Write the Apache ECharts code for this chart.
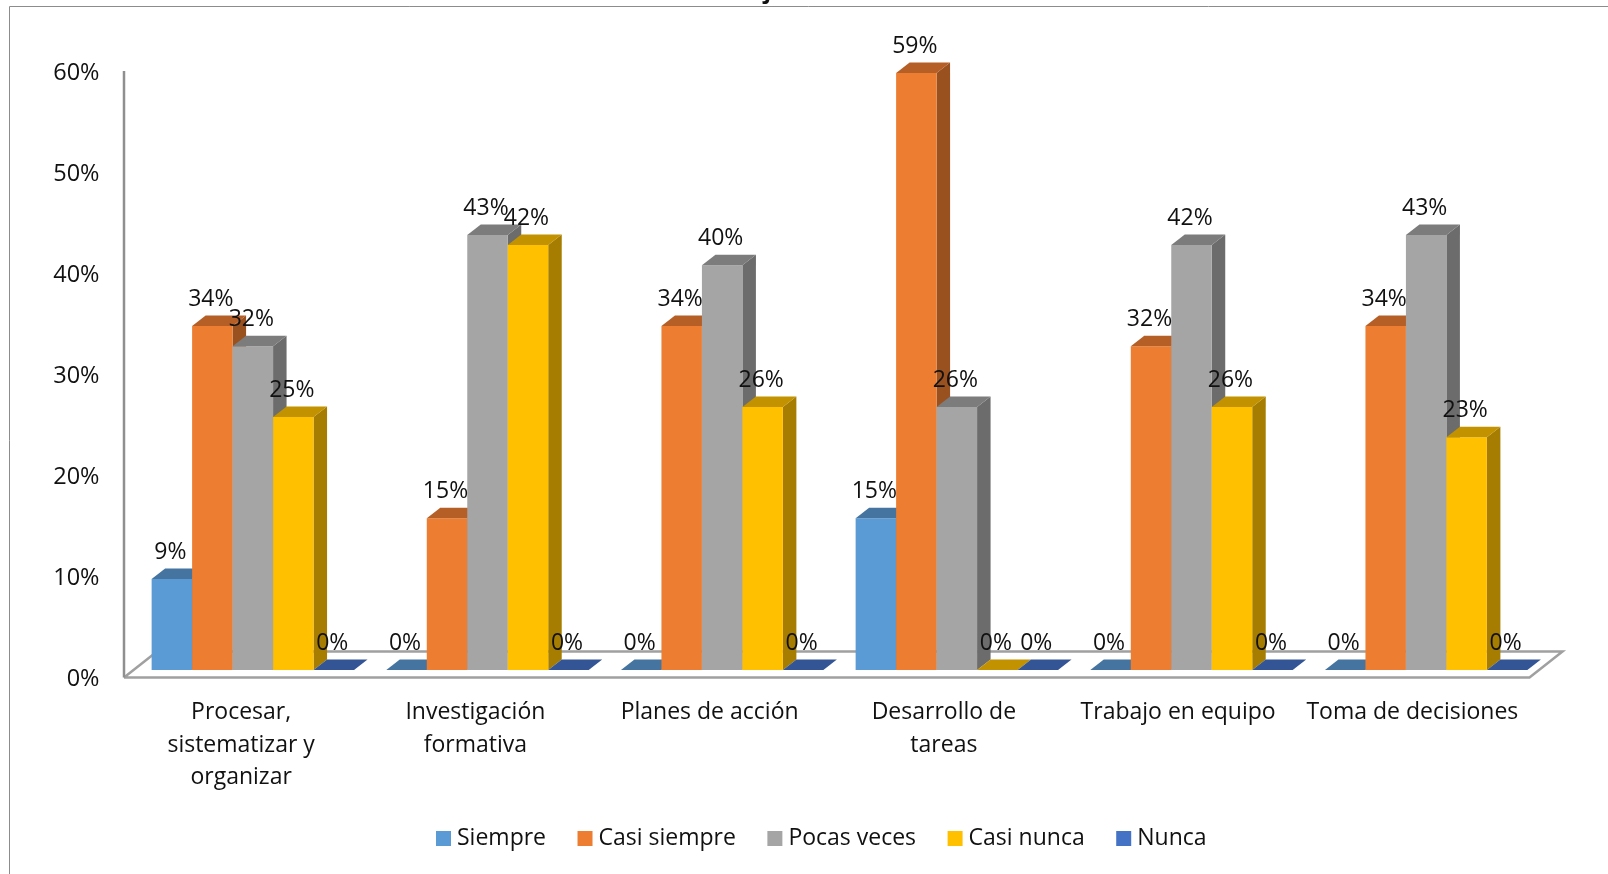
<!DOCTYPE html>
<html><head><meta charset="utf-8">
<style>html,body{margin:0;padding:0;background:#fff}#c{width:1608px;height:874px}</style>
<script src="https://cdn.jsdelivr.net/npm/echarts@6/dist/echarts.min.js"></script>
</head><body><div id="c"></div>
<script>
const categories = ['Procesar,\nsistematizar y\norganizar','Investigación\nformativa','Planes de acción','Desarrollo de\ntareas','Trabajo en equipo','Toma de decisiones'];
const siempre     = [9, 0, 0, 15, 0, 0];
const casiSiempre = [34, 15, 34, 59, 32, 34];
const pocasVeces  = [32, 43, 40, 26, 42, 43];
const casiNunca   = [25, 42, 26, 0, 26, 23];
const nunca       = [0, 0, 0, 0, 0, 0];
const seriesNames = ['Siempre','Casi siempre','Pocas veces','Casi nunca','Nunca'];
const frontColors = ['#5b9bd5','#ed7d31','#a5a5a5','#ffc000','#4472c4'];
const topColors   = ['#44749f','#b55f26','#7c7c7c','#c29200','#335595'];
const sideColors  = ['#3e6a91','#9a5120','#6c6c6c','#a67d00','#2c4a82'];
const FONT = '"Open Sans"';
const FS = 23;
const TEXT = '#111111';
const DX = 13.5, DY = 10.5;
const BAR_SHARE = 0.1725;
const LABEL_SHIFT = 2;
const chart = echarts.init(document.getElementById('c'));

function bar3d(si){
  return function(params, api){
    const c = api.value(0), v = api.value(1);
    const p = api.coord([c, v]), base = api.coord([c, 0]);
    const bw = api.size([1,0])[0] * BAR_SHARE;
    const x0 = p[0] - 2.5*bw + si*bw, x1 = x0 + bw, yt = p[1], yb = base[1];
    const kids = [];
    if (yb - yt > 0.5) {
      kids.push({type:'polygon', shape:{points:[[x1,yt],[x1+DX,yt-DY],[x1+DX,yb-DY],[x1,yb]]}, style:{fill:sideColors[si]}});
      kids.push({type:'rect', shape:{x:x0,y:yt,width:bw,height:yb-yt}, style:{fill:frontColors[si]}});
    }
    kids.push({type:'polygon', shape:{points:[[x0,yt],[x0+DX,yt-DY],[x1+DX,yt-DY],[x1,yt]]}, style:{fill:topColors[si]}});
    kids.push({type:'text', z2:100, style:{text:v+'%', x:(x0+x1)/2-1.5, y:yt-26.5, align:'center', verticalAlign:'middle', font:FS+'px '+FONT, fill:TEXT}});
    return {type:'group', children:kids};
  };
}

function floor(params, api){
  const g = params.coordSys;
  const y0 = g.y + g.height - LABEL_SHIFT, x0 = g.x, x1 = g.x + g.width;
  const backDx = 33, backDy = 26;
  return {type:'group', children:[
    {type:'polyline', shape:{points:[[x0,y0],[x0+backDx,y0-backDy],[x1+backDx,y0-backDy],[x1,y0],[x0,y0]]},
      style:{fill:'#fff', stroke:'#a0a0a0', lineWidth:2.5, lineJoin:'miter'}},
    {type:'line', shape:{x1:x0,y1:g.y-LABEL_SHIFT,x2:x0,y2:y0}, style:{stroke:'#8f8f8f', lineWidth:2.5}}
  ]};
}

const dataBySeries = [siempre, casiSiempre, pocasVeces, casiNunca, nunca];
const barSeries = seriesNames.map((name, si) => ({
  name, type:'custom', xAxisIndex:0, yAxisIndex:0, z:3,
  itemStyle:{color:frontColors[si]},
  renderItem: bar3d(si),
  encode:{x:0,y:1},
  data: dataBySeries[si].map((v,i)=>[i,v])
}));

chart.setOption({
  animation:false,
  backgroundColor:'#fff',
  textStyle:{fontFamily:FONT},
  graphic:[
    {type:'line', silent:true, shape:{x1:9.5,y1:6.5,x2:1608,y2:6.5}, style:{stroke:'#8c8c8c',lineWidth:1}},
    {type:'line', silent:true, shape:{x1:9.5,y1:6.5,x2:9.5,y2:874}, style:{stroke:'#8c8c8c',lineWidth:1}},
    {type:'text', silent:true, x:764, y:-9, style:{text:'j', font:'bold 23px '+FONT, fill:'#111111', verticalAlign:'middle', align:'left'}}
  ],
  grid:[
    {left:135.5, width:1408, top:63, height:607, containLabel:false},
    {left:124, width:1405.5, top:71+LABEL_SHIFT, height:606.5, containLabel:false}
  ],
  xAxis:[
    {type:'category', gridIndex:0, data:categories, show:false},
    {type:'category', gridIndex:1, data:categories, axisTick:{show:false},
      axisLine:{show:false},
      axisLabel:{interval:0, margin:19-LABEL_SHIFT, color:TEXT, fontFamily:FONT, fontSize:FS, lineHeight:32.5, verticalAlign:'top'}}
  ],
  yAxis:[
    {type:'value', gridIndex:0, min:0, max:60, interval:10, show:false},
    {type:'value', gridIndex:1, min:0, max:60, interval:10,
      axisLine:{show:false}, axisTick:{show:false}, splitLine:{show:false},
      axisLabel:{margin:24.5, color:TEXT, fontFamily:FONT, fontSize:23.5, formatter:'{value}%'}}
  ],
  legend:{
    left:436, top:827, padding:0, icon:'rect', itemWidth:15, itemHeight:15, itemGap:31.5,
    data:seriesNames, textStyle:{fontFamily:FONT, fontSize:FS, color:TEXT, padding:[0,0,0,1]}
  },
  series:[
    {type:'custom', name:'floor', xAxisIndex:1, yAxisIndex:1, z:1, silent:true, renderItem:floor, data:[[0,0]], encode:{x:0,y:1}},
    ...barSeries
  ]
});
</script></body></html>
